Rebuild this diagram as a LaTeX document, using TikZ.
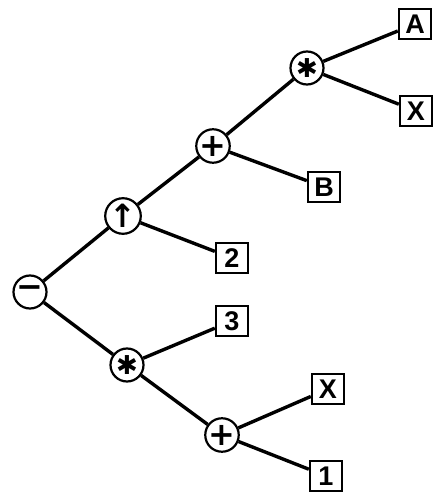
\documentclass[tikz,border=0pt]{standalone}
\usepackage{fontspec}
\setsansfont{Liberation Sans}
\newfontfamily\opfont{DejaVu Sans}
\usetikzlibrary{positioning}

\begin{document}
\begin{tikzpicture}[-,x=1pt,y=1pt,on grid,line width=3.4pt,
			op node/.style={circle,draw,line width=2.2pt,minimum size=33pt,
				inner sep=0pt,font=\opfont\bfseries\fontsize{32}{32}\selectfont},
			leaf node/.style={rectangle,draw,line width=2.4pt,minimum width=32pt,
				minimum height=30pt,inner sep=0pt,font=\sffamily\bfseries\fontsize{27}{27}\selectfont}]
			\useasboundingbox (-30,-201) rectangle (411,292);
			
			\node[op node] (minus) {−};
			\node[op node] (pow) [above right=76pt and 93pt of minus] {↑};
			\node[op node] (plusA) [above right=70pt and 90pt of pow] {+};
			\node[op node] (starA) [above right=78pt and 94pt of plusA] {\fontsize{26}{26}\selectfont ✱};
			\node[leaf node] (A) [above right=44pt and 108pt of starA] {A};
			\node[leaf node] (XA) [below right=43pt and 109pt of starA] {X};
			\node[leaf node] (B) [below right=41pt and 111pt of plusA] {B};
			\node[leaf node] (two) [below right=42pt and 109pt of pow] {2};
			\node[op node] (starB) [below right=73pt and 97pt of minus] {\fontsize{26}{26}\selectfont ✱};
			\node[leaf node] (three) [above right=44pt and 105pt of starB] {3};
			\node[op node] (plusB) [below right=70pt and 95pt of starB] {+};
			\node[leaf node] (XB) [above right=46pt and 106pt of plusB] {X};
			\node[leaf node] (one) [below right=41pt and 104pt of plusB] {1};
			\path[-]
			(minus) edge (pow)
			(pow) edge (plusA)
			(plusA) edge (starA)
			(starA) edge (A)
			(starA) edge (XA)
			(plusA) edge (B)
			(pow) edge (two)
			(minus) edge (starB)
			(starB) edge (three)
			(starB) edge (plusB)
			(plusB) edge (XB)
			(plusB) edge (one);
		\end{tikzpicture}
\end{document}
